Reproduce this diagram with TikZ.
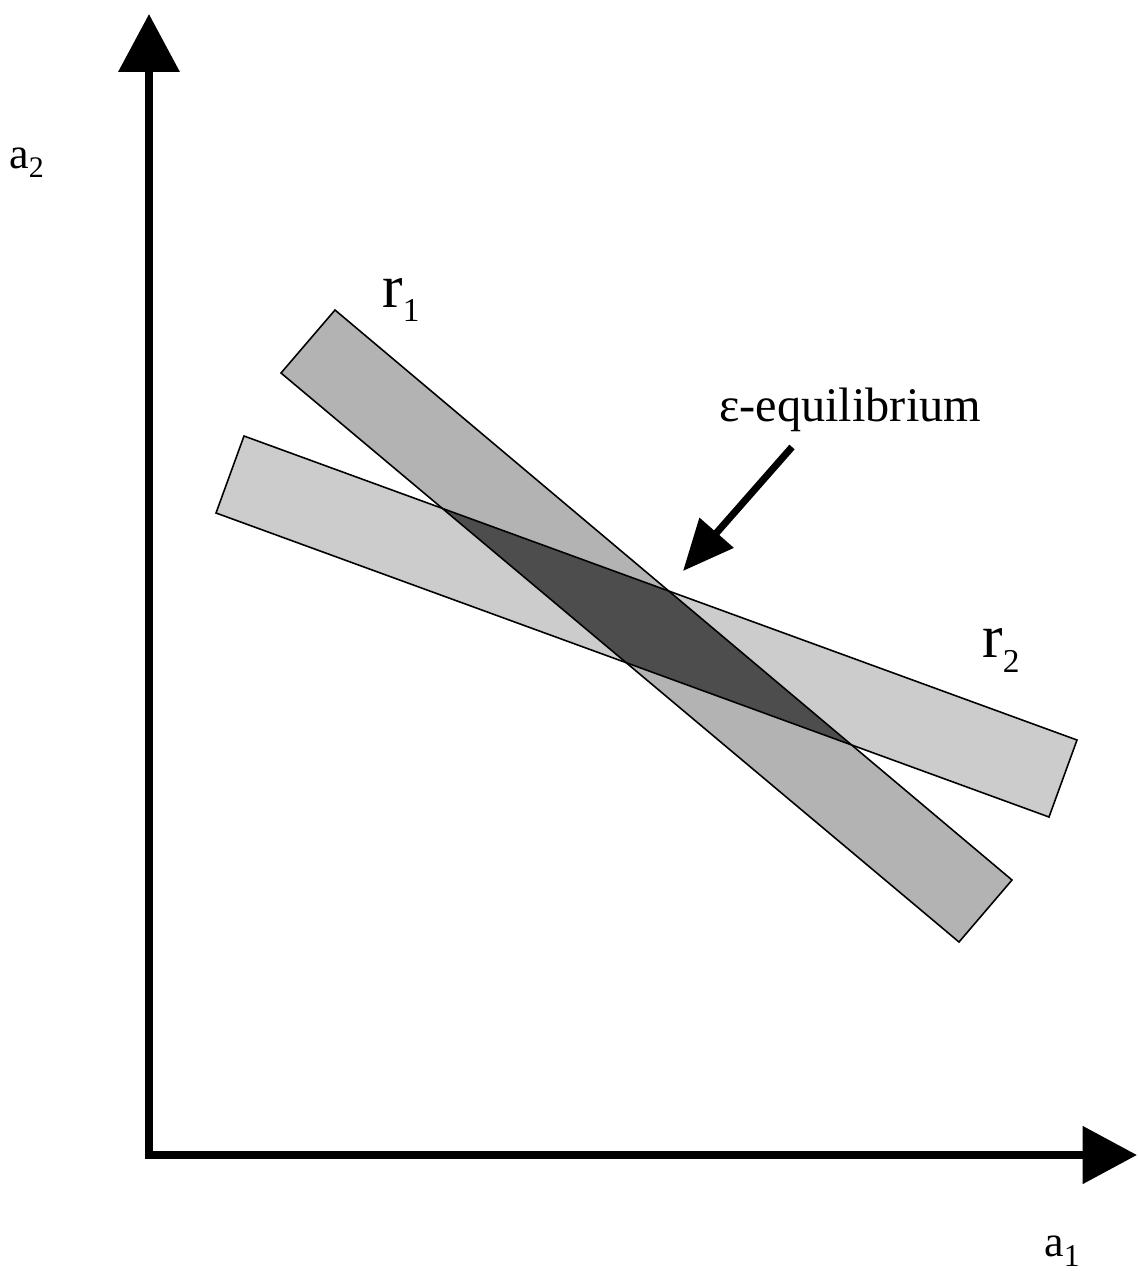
\documentclass[tikz,border=0pt]{standalone}
\usepackage{fontspec}
\setmainfont{Liberation Serif}
\usetikzlibrary{arrows.meta}
\definecolor{bandone}{RGB}{179, 179, 179}
\definecolor{bandtwo}{RGB}{204, 204, 204}
\definecolor{bandboth}{RGB}{77, 77, 77}
\tikzset{
  band/.style    = {draw=black, line width=0.9pt, line join=miter},
  axis/.style    = {line width=4.5pt, line join=miter,
                    {Triangle[length=33pt, width=34pt]}-{Triangle[length=31pt, width=32pt]}},
  pointer/.style = {line width=4pt, -{Triangle[length=29pt, width=25pt]}},
  axlbl/.style   = {font=\fontsize{25}{30}\selectfont, inner sep=0pt, anchor=base west},
  rlbl/.style    = {font=\fontsize{35}{40}\selectfont, inner sep=0pt, anchor=base west},
  eqlbl/.style   = {font=\fontsize{27.5}{32}\selectfont, inner sep=0pt, anchor=base west},
}
\newcommand{\lowsub}[3]{\raisebox{-#1}{\fontsize{#2}{#2}\selectfont #3}}

\begin{document}
\begin{tikzpicture}[x=0.02cm, y=-0.02cm]

  \useasboundingbox (0,0) rectangle (1138,1271);

  %% ---------------- the two bands ----------------
  \coordinate (ra) at (335,310);
  \coordinate (rb) at (281,373);
  \coordinate (rc) at (959,942);
  \coordinate (rd) at (1012,880);

  \coordinate (sa) at (244,436);
  \coordinate (sb) at (216,513);
  \coordinate (sc) at (1049,817);
  \coordinate (sd) at (1077,740);

  \fill[bandtwo] (sa) -- (sb) -- (sc) -- (sd) -- cycle;
  \fill[bandone] (ra) -- (rb) -- (rc) -- (rd) -- cycle;
  \begin{scope}
    \clip (ra) -- (rb) -- (rc) -- (rd) -- cycle;
    \fill[bandboth] (sa) -- (sb) -- (sc) -- (sd) -- cycle;
  \end{scope}
  \draw[band] (sa) -- (sb) -- (sc) -- (sd) -- cycle;
  \draw[band] (ra) -- (rb) -- (rc) -- (rd) -- cycle;

  %% ---------------- axes ----------------
  \coordinate (O) at (149,1155);
  \coordinate (ytip) at (149,14);
  \coordinate (xtip) at (1137,1155);
  \draw[axis] (ytip) -- (O) -- (xtip);

  %% ---------------- labels ----------------
  \node[axlbl] (a2) at (9,168) {a\lowsub{5.5pt}{17}{2}};
  \node[axlbl] (a1) at (1044,1256) {a\lowsub{6pt}{18}{1}};
  \node[rlbl] (r1) at (382,307) {r\lowsub{8pt}{19}{1}};
  \node[rlbl] (r2) at (982,657) {r\lowsub{9pt}{19}{2}};
  \node[eqlbl] (eq) at (719,421) {ε-equilibrium};

  \coordinate (eqtail) at (792,447);
  \coordinate (eqtip) at (683,571);
  \draw[pointer] (eqtail) -- (eqtip);

\end{tikzpicture}
\end{document}
